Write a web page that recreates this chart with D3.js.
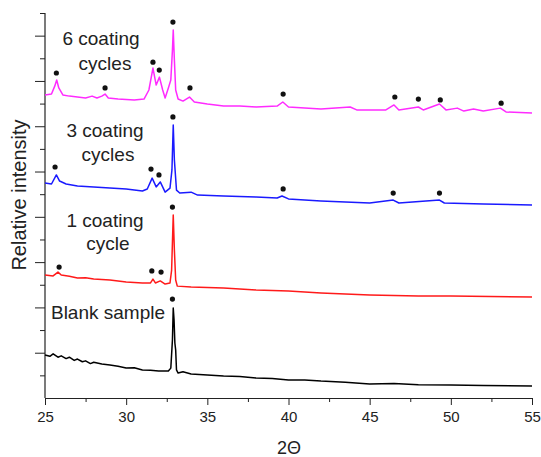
<!DOCTYPE html>
<html>
<head>
<meta charset="utf-8">
<script src="https://cdn.jsdelivr.net/npm/d3@7"></script>
<style>
  body { margin: 0; background: #fff; }
  svg text { font-family: "Liberation Sans", Arial, sans-serif; fill: #222; }
  .axis path, .axis line { stroke: #222; }
</style>
</head>
<body>
<svg width="541" height="457"></svg>
<script>
// 2-theta vs. stacked relative intensity (arbitrary units, offset per trace)
const blank = [
  [25.0,1.90],[25.3,1.84],[25.5,1.95],[25.8,1.80],[26.0,1.86],[26.3,1.74],[26.5,1.80],[26.8,1.66],
  [27.0,1.72],[27.3,1.60],[27.5,1.64],[27.8,1.52],[28.0,1.58],[28.5,1.50],[29.0,1.46],[29.5,1.40],
  [30.0,1.32],[30.5,1.34],[31.0,1.24],[31.5,1.22],[32.0,1.19],[32.6,1.19],[32.75,1.32],[32.85,2.56],
  [32.9,3.97],[32.95,3.44],[33.0,2.43],[33.05,2.12],[33.1,1.24],[33.2,1.10],[33.5,1.16],[34.0,1.06],
  [35.0,1.02],[36.0,0.97],[37.0,0.95],[38.0,0.88],[39.0,0.86],[40.0,0.79],[41.0,0.80],[42.0,0.75],
  [43.5,0.70],[45.0,0.62],[46.5,0.64],[48.0,0.58],[50.0,0.57],[52.0,0.55],[55.0,0.53]
];
const cycle1 = [
  [25.0,5.43],[25.5,5.39],[25.8,5.56],[26.0,5.43],[26.5,5.38],[27.0,5.30],[27.5,5.31],[28.0,5.25],
  [29.0,5.21],[30.0,5.12],[31.0,5.08],[31.5,5.08],[31.65,5.25],[31.8,5.08],[32.1,5.17],[32.4,5.03],
  [32.7,5.08],[32.8,5.65],[32.9,8.08],[32.97,6.53],[33.05,5.21],[33.15,4.94],[34.0,4.90],
  [36.0,4.86],[38.0,4.77],[40.0,4.72],[42.0,4.64],[45.0,4.55],[48.0,4.50],[50.0,4.50],[55.0,4.46]
];
const cycle3 = [
  [25.0,9.49],[25.4,9.45],[25.7,9.85],[25.9,9.58],[26.3,9.45],[27.0,9.36],[28.0,9.32],
  [29.0,9.27],[30.0,9.23],[31.0,9.14],[31.3,9.23],[31.6,9.71],[31.85,9.32],[32.1,9.54],
  [32.4,9.09],[32.7,9.27],[32.82,10.07],[32.9,12.05],[32.97,10.51],[33.1,9.18],[33.3,9.05],
  [34.0,9.09],[34.4,8.96],[36.0,8.92],[38.0,8.87],[39.3,8.83],[39.6,8.92],[40.0,8.79],
  [42.0,8.70],[45.0,8.61],[46.45,8.74],[46.8,8.61],[49.3,8.74],[49.6,8.61],[52.0,8.57],[55.0,8.52]
];
const cycle6 = [
  [25.0,13.38],[25.4,13.42],[25.6,13.77],[25.72,14.04],[25.85,13.69],[26.1,13.38],[26.5,13.33],
  [27.0,13.29],[27.5,13.25],[27.9,13.33],[28.2,13.25],[28.5,13.33],[28.7,13.42],[28.9,13.25],
  [29.5,13.20],[30.5,13.16],[31.1,13.20],[31.4,13.60],[31.65,14.57],[31.85,13.82],[32.05,14.17],
  [32.25,13.60],[32.4,13.25],[32.6,13.69],[32.75,14.04],[32.85,15.36],[32.9,16.25],[32.97,14.92],
  [33.05,13.60],[33.2,13.20],[33.5,13.11],[33.9,13.29],[34.2,13.07],[35.0,12.98],[36.0,12.89],
  [37.0,12.89],[38.0,12.85],[39.3,12.89],[39.65,13.07],[40.0,12.85],[41.0,12.80],[42.0,12.76],
  [43.8,12.85],[44.2,12.72],[45.0,12.72],[46.0,12.72],[46.5,12.94],[46.8,12.72],[48.0,12.85],
  [48.3,12.72],[49.3,12.98],[49.7,12.72],[50.4,12.80],[50.8,12.67],[51.4,12.76],[52.0,12.67],
  [53.05,12.80],[53.4,12.63],[55.0,12.58]
];

// peak markers
const dotsBlank = [[32.85,4.37]];
const dots1 = [[25.87,5.78],[31.58,5.61],[32.15,5.56],[32.85,8.43]];
const dots3 = [[25.62,10.2],[31.53,10.11],[32.02,9.85],[32.88,12.41],[39.67,9.23],[46.45,9.05],[49.3,9.05]];
const dots6 = [[25.7,14.35],[28.7,13.69],[31.65,14.83],[32.04,14.48],[32.88,16.6],[33.93,13.69],
  [39.67,13.42],[46.55,13.29],[48.0,13.2],[49.35,13.16],[53.1,13.02]];

const seriesNames = ["Blank sample", "1 coating cycle", "3 coating cycles", "6 coating cycles"];
const seriesData = [blank, cycle1, cycle3, cycle6];
const seriesDots = [dotsBlank, dots1, dots3, dots6];
const seriesColors = ["#000000", "#ff1a1a", "#1a1aff", "#ff2bff"];

const xMajor = [25, 30, 35, 40, 45, 50, 55];
const xMinor = [27.5, 32.5, 37.5, 42.5, 47.5, 52.5];

const svg = d3.select("svg");
const mLeft = 45, mRight = 532, mTop = 13, mBottom = 398;

const x = d3.scaleLinear().domain([25, 55]).range([mLeft, mRight]);
const y = d3.scaleLinear().domain([0, 17]).range([mBottom, mTop]);

// y axis: unlabelled, major/minor ticks
const yAxis = svg.append("g").attr("class", "axis").attr("transform", `translate(${mLeft},0)`)
  .call(d3.axisLeft(y).tickValues(d3.range(1, 18)).tickFormat("").tickSizeOuter(0).tickSize(10));
yAxis.selectAll(".tick line").attr("x2", d => d % 2 === 0 ? -10 : -5);
yAxis.select(".domain").attr("d", `M0,${mBottom}V${mTop}`);

// x axis
const xAxis = svg.append("g").attr("class", "axis").attr("transform", `translate(0,${mBottom})`)
  .call(d3.axisBottom(x).tickValues(xMajor).tickFormat(d3.format("d")).tickSize(7).tickPadding(6).tickSizeOuter(0));
xAxis.selectAll("text").style("font-size", "15px").attr("fill", "#222");
svg.append("g").attr("class", "axis").attr("transform", `translate(0,${mBottom})`)
  .call(d3.axisBottom(x).tickValues(xMinor).tickFormat("").tickSize(4).tickSizeOuter(0))
  .select(".domain").remove();
svg.selectAll(".axis .domain").attr("stroke-width", 1.2);

const line = d3.line().x(d => x(d[0])).y(d => y(d[1]));

seriesData.forEach((data, i) => {
  svg.append("path")
    .datum(data)
    .attr("fill", "none")
    .attr("stroke", seriesColors[i])
    .attr("stroke-width", 1.5)
    .attr("stroke-linejoin", "round")
    .attr("d", line);
  svg.append("g").selectAll("circle")
    .data(seriesDots[i])
    .join("circle")
    .attr("cx", d => x(d[0]))
    .attr("cy", d => y(d[1]))
    .attr("r", 2.6)
    .attr("fill", "#111");
});

// trace labels
const labels = [
  { lines: ["6 coating", "cycles"], pos: [[101, 45], [105, 70]] },
  { lines: ["3 coating", "cycles"], pos: [[105, 137], [108, 161]] },
  { lines: ["1 coating", "cycle"], pos: [[105, 227], [108, 250]] },
  { lines: ["Blank sample"], pos: [[108, 319]] }
];
labels.forEach(l => {
  l.lines.forEach((t, j) => {
    svg.append("text")
      .attr("x", l.pos[j][0]).attr("y", l.pos[j][1])
      .attr("text-anchor", "middle")
      .style("font-size", "19px")
      .text(t);
  });
});

svg.append("text")
  .attr("transform", "translate(26,195) rotate(-90)")
  .attr("text-anchor", "middle")
  .style("font-size", "20px")
  .text("Relative intensity");

svg.append("text")
  .attr("x", 289).attr("y", 454)
  .attr("text-anchor", "middle")
  .style("font-size", "18px")
  .text("2Θ");
</script>
</body>
</html>
